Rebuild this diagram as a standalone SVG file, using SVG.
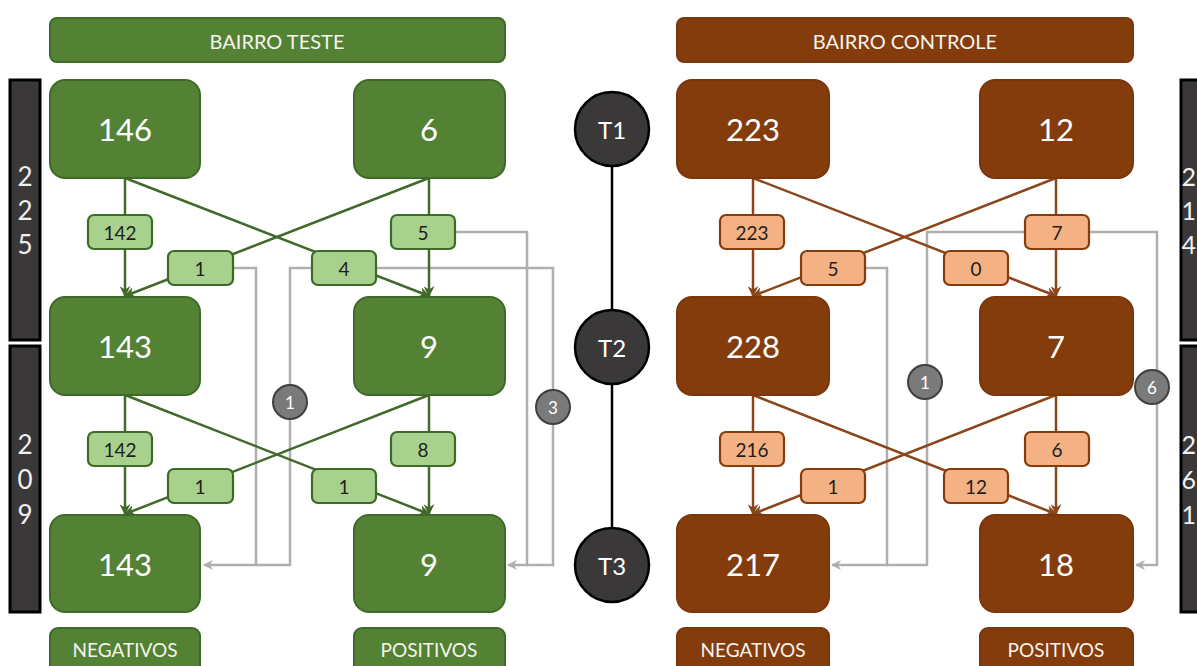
<svg xmlns="http://www.w3.org/2000/svg" width="1197" height="666" viewBox="0 0 1197 666">
<defs>
<style>
text{font-family:Lato,"Open Sans","Liberation Sans",sans-serif;text-anchor:middle;dominant-baseline:central}
.gn{fill:#548235;stroke:#3d6a27;stroke-width:2}
.bn{fill:#843c0c;stroke:#7a370b;stroke-width:2}
.num{fill:#fff;font-size:31px}
.hdr{fill:#f4f4ec;font-size:20px}
.ftr{fill:#f4f4ec;font-size:19px}
.gl{fill:#a9d18e;stroke:#3d6a27;stroke-width:2.2}
.bl{fill:#f4b183;stroke:#843c0c;stroke-width:2.2}
.lt{fill:#1e1e1e;font-size:19px}
.gc{stroke:#41692b;stroke-width:2.5;fill:none}
.bc{stroke:#8a461a;stroke-width:2.5;fill:none}
.gr{stroke:#afafaf;stroke-width:2.5;fill:none}
.bar{fill:#3a3838;stroke:#000;stroke-width:3}
.bt{fill:#f0f0f0;font-size:26px}
.bte{fill:#f0f0f0;font-size:25px;text-anchor:end}
.tc{fill:#3a3838;stroke:#000;stroke-width:2.5}
.tt{fill:#fff;font-size:24px}
.sc{fill:#7a7a7a;stroke:#3f3f3f;stroke-width:2}
.st{fill:#fff;font-size:17px}
</style>
<marker id="ag" viewBox="0 0 10 10" refX="9" refY="5" markerWidth="4.4" markerHeight="4.4" orient="auto"><path d="M0,0 L10,5 L0,10 L3,5 z" fill="#41692b"/></marker>
<marker id="ab" viewBox="0 0 10 10" refX="9" refY="5" markerWidth="4.4" markerHeight="4.4" orient="auto"><path d="M0,0 L10,5 L0,10 L3,5 z" fill="#8a461a"/></marker>
<marker id="ar" viewBox="0 0 10 10" refX="9" refY="5" markerWidth="4" markerHeight="4" orient="auto"><path d="M0,0 L10,5 L0,10 L3,5 z" fill="#afafaf"/></marker>
</defs>

<!-- headers -->
<g id="hdr-teste"><rect x="50" y="18" width="455" height="44" rx="7" class="gn"/><text x="277" y="41" class="hdr">BAIRRO TESTE</text></g>
<g id="hdr-controle"><rect x="677" y="18" width="456" height="44" rx="7" class="bn"/><text x="905" y="41" class="hdr">BAIRRO CONTROLE</text></g>

<!-- side bars -->
<g id="bar-l1"><rect x="10" y="80" width="30" height="260" class="bar"/><text x="25" y="176" class="bt">2</text><text x="25" y="210" class="bt">2</text><text x="25" y="244" class="bt">5</text></g>
<g id="bar-l2"><rect x="10" y="346" width="30" height="266" class="bar"/><text x="25" y="444" class="bt">2</text><text x="25" y="479" class="bt">0</text><text x="25" y="514" class="bt">9</text></g>
<g id="bar-r1"><rect x="1181" y="80" width="30" height="260" class="bar"/><text x="1196" y="176" class="bte">2</text><text x="1196" y="210" class="bte">1</text><text x="1196" y="244" class="bte">4</text></g>
<g id="bar-r2"><rect x="1181" y="346" width="30" height="266" class="bar"/><text x="1196" y="444" class="bte">2</text><text x="1196" y="479" class="bte">6</text><text x="1196" y="514" class="bte">1</text></g>

<!-- timeline -->
<g id="timeline">
<line x1="612" y1="129" x2="612" y2="565" stroke="#000" stroke-width="2.5"/>
</g>
<g id="t1"><circle cx="612" cy="129" r="37" class="tc"/><text x="612" y="129" class="tt">T1</text></g>
<g id="t2"><circle cx="612" cy="347" r="37" class="tc"/><text x="612" y="347" class="tt">T2</text></g>
<g id="t3"><circle cx="612" cy="565" r="37" class="tc"/><text x="612" y="565" class="tt">T3</text></g>

<!-- connectors -->
<g id="connectors">
<!-- gray transfers left -->
<path class="gr" d="M232,268 H256 V565 H204" marker-end="url(#ar)"/>
<path class="gr" d="M312,268 H290 V565 H256"/>
<path class="gr" d="M375,268 H553 V565 H527"/>
<path class="gr" d="M455,232 H527 V565 H508" marker-end="url(#ar)"/>
<!-- gray transfers right -->
<path class="gr" d="M865,268 H887 V565 H832" marker-end="url(#ar)"/>
<path class="gr" d="M1024,232 H927 V565 H887"/>
<path class="gr" d="M1090,232 H1157 V565 H1136" marker-end="url(#ar)"/>
<!-- green T1-T2 -->
<line class="gc" x1="125" y1="178" x2="125" y2="296" marker-end="url(#ag)"/>
<line class="gc" x1="429" y1="178" x2="429" y2="296" marker-end="url(#ag)"/>
<line class="gc" x1="125" y1="178" x2="429" y2="296" marker-end="url(#ag)"/>
<line class="gc" x1="429" y1="178" x2="125" y2="296" marker-end="url(#ag)"/>
<!-- green T2-T3 -->
<line class="gc" x1="125" y1="395" x2="125" y2="514" marker-end="url(#ag)"/>
<line class="gc" x1="429" y1="395" x2="429" y2="514" marker-end="url(#ag)"/>
<line class="gc" x1="125" y1="395" x2="429" y2="514" marker-end="url(#ag)"/>
<line class="gc" x1="429" y1="395" x2="125" y2="514" marker-end="url(#ag)"/>
<!-- brown T1-T2 -->
<line class="bc" x1="753" y1="178" x2="753" y2="296" marker-end="url(#ab)"/>
<line class="bc" x1="1056" y1="178" x2="1056" y2="296" marker-end="url(#ab)"/>
<line class="bc" x1="753" y1="178" x2="1056" y2="296" marker-end="url(#ab)"/>
<line class="bc" x1="1056" y1="178" x2="753" y2="296" marker-end="url(#ab)"/>
<!-- brown T2-T3 -->
<line class="bc" x1="753" y1="395" x2="753" y2="514" marker-end="url(#ab)"/>
<line class="bc" x1="1056" y1="395" x2="1056" y2="514" marker-end="url(#ab)"/>
<line class="bc" x1="753" y1="395" x2="1056" y2="514" marker-end="url(#ab)"/>
<line class="bc" x1="1056" y1="395" x2="753" y2="514" marker-end="url(#ab)"/>
</g>

<!-- edge labels -->
<g id="edge-labels">
<g><rect x="88" y="215" width="64" height="34" rx="6" class="gl"/><text x="120" y="232" class="lt">142</text></g>
<g><rect x="168" y="251" width="65" height="34" rx="6" class="gl"/><text x="200" y="268" class="lt">1</text></g>
<g><rect x="391" y="215" width="64" height="34" rx="6" class="gl"/><text x="423" y="232" class="lt">5</text></g>
<g><rect x="312" y="251" width="64" height="34" rx="6" class="gl"/><text x="344" y="268" class="lt">4</text></g>
<g><rect x="88" y="432" width="64" height="34" rx="6" class="gl"/><text x="120" y="449" class="lt">142</text></g>
<g><rect x="168" y="469" width="65" height="34" rx="6" class="gl"/><text x="200" y="486" class="lt">1</text></g>
<g><rect x="391" y="432" width="64" height="34" rx="6" class="gl"/><text x="423" y="449" class="lt">8</text></g>
<g><rect x="312" y="469" width="64" height="34" rx="6" class="gl"/><text x="344" y="486" class="lt">1</text></g>

<g><rect x="720" y="215" width="64" height="34" rx="6" class="bl"/><text x="752" y="232" class="lt">223</text></g>
<g><rect x="801" y="251" width="64" height="34" rx="6" class="bl"/><text x="833" y="268" class="lt">5</text></g>
<g><rect x="1025" y="215" width="64" height="34" rx="6" class="bl"/><text x="1057" y="232" class="lt">7</text></g>
<g><rect x="944" y="251" width="64" height="34" rx="6" class="bl"/><text x="976" y="268" class="lt">0</text></g>
<g><rect x="720" y="432" width="64" height="34" rx="6" class="bl"/><text x="752" y="449" class="lt">216</text></g>
<g><rect x="801" y="469" width="64" height="34" rx="6" class="bl"/><text x="833" y="486" class="lt">1</text></g>
<g><rect x="1025" y="432" width="64" height="34" rx="6" class="bl"/><text x="1057" y="449" class="lt">6</text></g>
<g><rect x="944" y="469" width="64" height="34" rx="6" class="bl"/><text x="976" y="486" class="lt">12</text></g>

<g><circle cx="290" cy="402" r="17" class="sc"/><text x="290" y="402" class="st">1</text></g>
<g><circle cx="553" cy="407" r="17" class="sc"/><text x="553" y="407" class="st">3</text></g>
<g><circle cx="925" cy="382" r="17" class="sc"/><text x="925" y="382" class="st">1</text></g>
<g><circle cx="1152" cy="387" r="17" class="sc"/><text x="1152" y="387" class="st">6</text></g>
</g>

<!-- green nodes -->
<g id="teste-neg-t1"><rect x="50" y="80" width="150" height="98" rx="15" class="gn"/><text x="125" y="129" class="num">146</text></g>
<g id="teste-pos-t1"><rect x="354" y="80" width="151" height="98" rx="15" class="gn"/><text x="429" y="129" class="num">6</text></g>
<g id="teste-neg-t2"><rect x="50" y="297" width="150" height="98" rx="15" class="gn"/><text x="125" y="346" class="num">143</text></g>
<g id="teste-pos-t2"><rect x="354" y="297" width="151" height="98" rx="15" class="gn"/><text x="429" y="346" class="num">9</text></g>
<g id="teste-neg-t3"><rect x="50" y="515" width="150" height="97" rx="15" class="gn"/><text x="125" y="564" class="num">143</text></g>
<g id="teste-pos-t3"><rect x="354" y="515" width="151" height="97" rx="15" class="gn"/><text x="429" y="564" class="num">9</text></g>
<g id="teste-neg-label"><rect x="50" y="628" width="150" height="50" rx="8" class="gn"/><text x="125" y="649" class="ftr">NEGATIVOS</text></g>
<g id="teste-pos-label"><rect x="354" y="628" width="151" height="50" rx="8" class="gn"/><text x="429" y="649" class="ftr">POSITIVOS</text></g>

<!-- brown nodes -->
<g id="controle-neg-t1"><rect x="677" y="80" width="152" height="98" rx="15" class="bn"/><text x="753" y="129" class="num">223</text></g>
<g id="controle-pos-t1"><rect x="980" y="80" width="153" height="98" rx="15" class="bn"/><text x="1056" y="129" class="num">12</text></g>
<g id="controle-neg-t2"><rect x="677" y="297" width="152" height="98" rx="15" class="bn"/><text x="753" y="346" class="num">228</text></g>
<g id="controle-pos-t2"><rect x="980" y="297" width="153" height="98" rx="15" class="bn"/><text x="1056" y="346" class="num">7</text></g>
<g id="controle-neg-t3"><rect x="677" y="515" width="152" height="97" rx="15" class="bn"/><text x="753" y="564" class="num">217</text></g>
<g id="controle-pos-t3"><rect x="980" y="515" width="153" height="97" rx="15" class="bn"/><text x="1056" y="564" class="num">18</text></g>
<g id="controle-neg-label"><rect x="677" y="628" width="152" height="50" rx="8" class="bn"/><text x="753" y="649" class="ftr">NEGATIVOS</text></g>
<g id="controle-pos-label"><rect x="980" y="628" width="153" height="50" rx="8" class="bn"/><text x="1056" y="649" class="ftr">POSITIVOS</text></g>
</svg>
